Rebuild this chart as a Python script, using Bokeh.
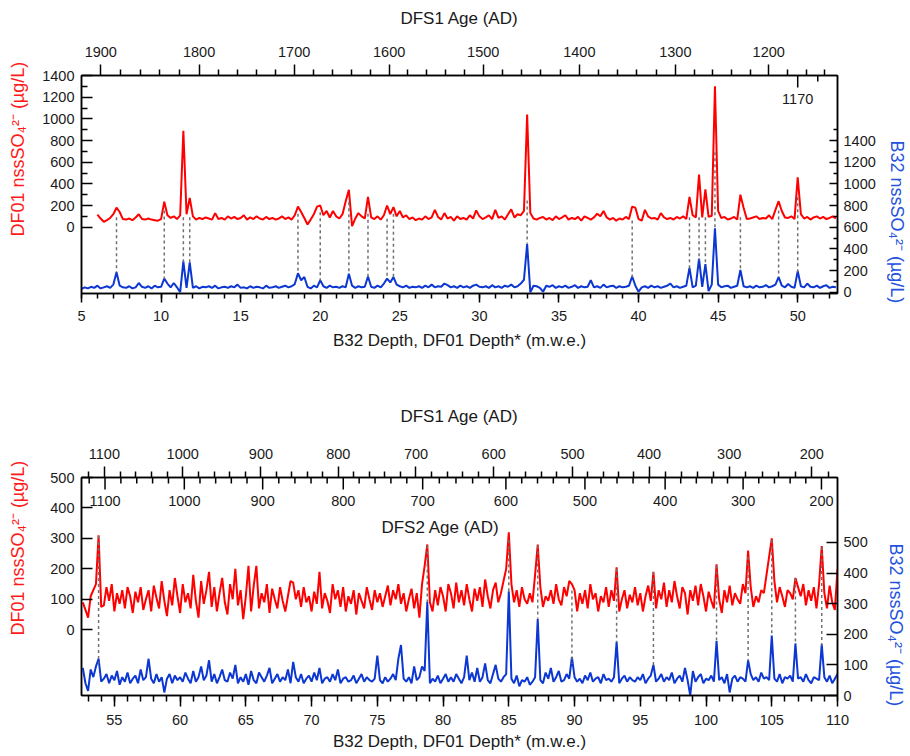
import numpy as np
from bokeh.plotting import figure
from bokeh.models import Range1d, LinearAxis, FixedTicker, SingleIntervalTicker, Title
from bokeh.layouts import column
from bokeh.embed import file_html
from bokeh.resources import INLINE
from bokeh.core.properties import value

# ------------------------------------------------------------------ data
STEP = 0.2

# upper panel: DF01 (red) and B32 (blue), sampled every 0.2 m
top_red_start = 6.0
top_red = [
    115, 80, 50, 65, 85, 120, 180, 140, 75, 70,
    80, 65, 90, 120, 75, 70, 80, 70, 65, 60,
    75, 235, 110, 85, 100, 75, 110, 890, 120, 270,
    100, 70, 85, 75, 90, 80, 70, 130, 75, 85,
    70, 100, 80, 95, 75, 85, 110, 70, 90, 75,
    100, 80, 70, 95, 75, 85, 70, 80, 100, 75,
    90, 70, 110, 190, 140, 85, 25, 70, 120, 190,
    200, 110, 150, 90, 150, 100, 80, 120, 240, 345,
    10, 80, 130, 100, 80, 280, 90, 75, 100, 70,
    110, 200, 120, 185, 100, 150, 90, 110, 75, 90,
    65, 80, 70, 100, 75, 90, 160, 95, 70, 130,
    80, 95, 60, 100, 75, 85, 70, 110, 80, 155,
    100, 75, 90, 110, 75, 160, 85, 100, 70, 120,
    165, 90, 120, 110, 150, 1040, 130, 80, 70, 85,
    95, 70, 85, 65, 100, 75, 90, 110, 70, 85,
    75, 95, 60, 100, 85, 70, 90, 125, 100, 150,
    90, 70, 85, 60, 80, 70, 95, 75, 190, 180,
    75, 60, 160, 100, 80, 85, 70, 130, 90, 75,
    85, 70, 95, 80, 100, 75, 280, 110, 90, 485,
    90, 350, 95, 105, 1300, 150, 85, 95, 70, 80,
    95, 70, 300, 180, 75, 80, 90, 100, 75, 85,
    80, 110, 75, 160, 240, 150, 90, 85, 100, 75,
    460, 120, 80, 95, 70, 90, 100, 80, 95, 75,
    85, 100, 80,
]
top_blue_start = 5.0
top_blue = [
    30, 45, 35, 50, 40, 60, 35, 45, 55, 40,
    70, 185, 60, 45, 40, 55, 35, 45, 85, 50,
    40, 55, 35, 60, 45, 50, 125, 80, 45, 85,
    45, 0, 285, 40, 275, 40, 55, 35, 50, 45,
    55, 40, 60, 35, 45, 50, 40, 55, 45, 70,
    40, 45, 35, 55, 40, 50, 45, 35, 60, 40,
    45, 55, 40, 50, 60, 45, 55, 75, 175, 110,
    140, 50, 35, 60, 45, 110, 55, 40, 60, 45,
    50, 40, 55, 45, 170, 60, 40, 55, 45, 50,
    145, 50, 40, 60, 45, 80, 125, 90, 140, 70,
    55, 45, 60, 40, 50, 45, 55, 40, 60, 45,
    70, 45, 55, 50, 80, 65, 45, 55, 40, 60,
    45, 55, 40, 60, 70, 50, 45, 55, 40, 65,
    45, 55, 40, 60, 50, 70, 45, 55, 80, 115,
    445, 0, 60, 55, 40, 5, 60, 50, 65, 40,
    55, 45, 60, 40, 50, 65, 40, 55, 45, 50,
    110, 45, 55, 40, 70, 45, 55, 60, 40, 55,
    45, 50, 60, 145, 60, 5, 45, 55, 40, 60,
    45, 55, 40, 50, 60, 80, 45, 55, 40, 50,
    60, 225, 45, 60, 310, 50, 260, 10, 70, 590,
    70, 45, 55, 60, 40, 50, 60, 205, 55, 45,
    55, 40, 60, 45, 50, 65, 45, 55, 70, 140,
    60, 45, 75, 50, 40, 195, 55, 45, 80, 50,
    45, 60, 40, 55, 65, 40, 50, 45,
]

# lower panel, sampled every 0.2 m
bot_start = 52.6
bot_red = [
    90, 65, 40, 110, 130, 150, 310, 75, 80, 140,
    95, 150, 60, 120, 85, 130, 70, 140, 110, 55,
    125, 90, 140, 65, 100, 130, 60, 145, 105, 70,
    160, 95, 45, 130, 80, 170, 110, 55, 150, 90,
    120, 70, 180, 95, 40, 160, 85, 130, 190, 75,
    140, 60, 120, 170, 90, 50, 150, 100, 200, 80,
    130, 35, 110, 210, 60, 145, 210, 70, 120, 90,
    150, 55, 135, 100, 70, 140, 95, 60, 110, 160,
    155, 100, 130, 75, 140, 90, 110, 60, 125, 85,
    190, 70, 120, 95, 55, 150, 100, 130, 75, 140,
    60, 110, 85, 130, 50, 120, 95, 70, 140, 100,
    65, 130, 90, 120, 75, 110, 145, 80, 130, 100,
    150, 85, 120, 60, 100, 135, 70, 120, 40, 150,
    210, 280, 90, 60, 130, 80, 140, 110, 60, 150,
    120, 70, 155, 90, 130, 80, 150, 100, 60, 135,
    95, 140, 75, 165, 110, 70, 130, 155, 90, 120,
    160, 200, 320, 150, 90, 130, 75, 140, 100, 85,
    120, 90, 180, 280, 140, 75, 110, 95, 130, 85,
    150, 100, 80, 140, 110, 160, 150, 130, 60, 120,
    85, 130, 70, 150, 100, 120, 60, 110, 90, 140,
    75, 130, 95, 205, 60, 100, 130, 70, 115, 90,
    140, 80, 120, 60, 110, 145, 95, 190, 70, 130,
    100, 155, 75, 130, 90, 160, 110, 70, 140, 120,
    50, 130, 95, 145, 80, 150, 110, 60, 125, 95,
    70, 215, 100, 55, 130, 90, 145, 80, 120, 100,
    85, 150, 120, 260, 140, 75, 110, 90, 130, 120,
    180, 240, 300, 160, 90, 140, 110, 75, 130, 120,
    100, 170, 140, 110, 150, 80, 130, 95, 140, 70,
    150, 275, 120, 70, 145, 90, 65, 200,
]
bot_blue = [
    90, 40, 15, 85, 60, 95, 120, 45, 55, 70,
    40, 65, 50, 80, 35, 60, 45, 75, 40, 55,
    65, 40, 85, 50, 60, 120, 55, 40, 70, 45,
    60, 10, 55, 70, 40, 65, 50, 60, 45, 75,
    55, 40, 80, 45, 60, 95, 50, 65, 115, 45,
    70, 40, 60, 85, 50, 45, 75, 55, 100, 40,
    60, 45, 70, 35, 80, 50, 40, 75, 60, 45,
    65, 90, 40, 55, 70, 45, 60, 50, 85, 40,
    110, 60, 45, 70, 40, 55, 65, 45, 75, 50,
    90, 40, 55, 60, 45, 70, 50, 85, 40, 55,
    60, 45, 50, 65, 40, 55, 70, 45, 60, 50,
    45, 55, 130, 50, 40, 60, 45, 55, 70, 50,
    120, 165, 55, 45, 60, 40, 95, 50, 60, 95,
    80, 305, 40, 55, 45, 65, 40, 55, 70, 45,
    60, 45, 70, 55, 40, 60, 130, 50, 75, 45,
    90, 45, 60, 105, 50, 40, 70, 100, 55, 45,
    60, 70, 340, 55, 40, 65, 30, 50, 45, 60,
    35, 45, 60, 250, 50, 40, 75, 55, 90, 45,
    60, 80, 45, 50, 70, 55, 125, 60, 45, 55,
    40, 65, 50, 75, 45, 55, 60, 40, 70, 50,
    55, 45, 60, 175, 40, 55, 65, 45, 60, 50,
    45, 60, 50, 70, 40, 55, 65, 100, 45, 55,
    70, 45, 60, 50, 75, 40, 55, 65, 45, 90,
    50, 0, 80, 45, 60, 70, 40, 55, 50, 65,
    45, 178, 50, 60, 40, 70, 10, 55, 65, 45,
    60, 55, 45, 115, 70, 50, 60, 45, 75, 55,
    60, 50, 196, 55, 45, 70, 40, 60, 55, 65,
    45, 170, 55, 60, 45, 70, 50, 40, 60, 55,
    50, 167, 60, 45, 65, 40, 55, 70,
]

# tie lines between matched peaks (depth, DF01 top value, B32 bottom value)
top_link_depth = [7.2, 10.2, 11.4, 11.8, 18.6, 20.0, 21.8, 23.0, 24.2, 24.6,
                  33.0, 39.6, 43.2, 43.8, 44.2, 44.8, 46.4, 48.8, 50.0]
top_link_red = [92, 154, 92, 92, 123, 138, 231, 123, 77, 123,
                246, 62, 92, 92, 92, 692, 92, 154, 277]
top_link_blue = [185, 124, 277, 277, 170, 108, 170, 139, 124, 139,
                 447, 139, 216, 293, 246, 570, 200, 139, 185]
bot_link_depth = [53.8, 78.8, 85.0, 87.2, 89.8, 93.2, 96.0, 100.8, 103.2, 105.0, 106.8, 108.8]
bot_link_red = [308, 277, 294, 277, 129, 200, 190, 211, 239, 294, 168, 272]
bot_link_blue = [104, 305, 338, 251, 104, 174, 98, 174, 114, 196, 169, 163]

# age scales (age -> depth tie points)
top_age = [1900, 1800, 1700, 1600, 1500, 1400, 1300, 1200]
top_age_depth = [6.21, 12.39, 18.36, 24.33, 30.24, 36.28, 42.31, 48.18]
top_inner_age = [1170]
top_inner_depth = [50.0]
top_inner_minor_depth = [51.26]
bot_age = [1100, 1000, 900, 800, 700, 600, 500, 400, 300, 200]
bot_dfs1_depth = [54.24, 60.20, 66.15, 72.03, 77.94, 83.85, 89.85, 95.67, 101.76, 108.04]
bot_dfs2_depth = [54.29, 60.32, 66.28, 72.41, 78.45, 84.78, 90.79, 96.89, 102.82, 108.78]

RED_TITLE = "DF01 nssSO\u2084\u00b2\u207b (\u00b5g/L)"
BLUE_TITLE = "B32 nssSO\u2084\u00b2\u207b (\u00b5g/L)"
X_TITLE = "B32 Depth, DF01 Depth* (m.w.e.)"

# ------------------------------------------------------------------ style
FONT = "Liberation Sans"
RED = "#ff0000"
BLUE = "#0c37d2"
RED_T = "#ff1a1a"
BLUE_T = "#2352de"
INK = "#1a1a1a"
LINK = "#707070"
W = 910
FL, FW, FRAME_H = 81, 756, 218
TICK_FS = "14.5px"
TITLE_FS = "17px"
SIDE_FS = "18px"


def grid(start, n):
    return np.round(start + STEP * np.arange(n), 2)


def age_to_depth(ages, tie_ages, tie_depths):
    a = np.asarray(tie_ages, float)[::-1]
    d = np.asarray(tie_depths, float)[::-1]
    ages = np.asarray(ages, float)
    out = np.interp(ages, a, d)
    lo = ages < a[0]
    hi = ages > a[-1]
    out[lo] = d[0] + (ages[lo] - a[0]) * (d[1] - d[0]) / (a[1] - a[0])
    out[hi] = d[-1] + (ages[hi] - a[-1]) * (d[-1] - d[-2]) / (a[-1] - a[-2])
    return out


def minors(a_from, a_to):
    return [a for a in range(a_from, a_to - 1, -20) if a % 100 != 0]


def to_primary(vals, pr, sr):
    v = np.asarray(vals, float)
    return pr.start + (v - sr.start) * (pr.end - pr.start) / (sr.end - sr.start)


def x_at(px, xr):
    return xr.start + (px - FL) * (xr.end - xr.start) / FW


def y_at(dy, yr):
    # dy: pixels below the top of the frame
    return yr.end - dy * (yr.end - yr.start) / FRAME_H


def style(ax, tick_in=0, tick_out=0, minor_in=0, minor_out=0, standoff=6):
    ax.major_label_text_font = FONT
    ax.major_label_text_font_size = TICK_FS
    ax.major_label_text_color = INK
    ax.axis_label_text_font = FONT
    ax.axis_label_text_font_size = TITLE_FS
    ax.axis_label_text_font_style = "normal"
    ax.axis_label_text_color = INK
    ax.axis_line_width = 1.5
    ax.axis_line_color = "black"
    ax.major_tick_line_width = 1.5
    ax.minor_tick_line_width = 1.5
    ax.major_tick_line_color = "black"
    ax.minor_tick_line_color = "black"
    ax.major_tick_in = tick_in
    ax.major_tick_out = tick_out
    ax.minor_tick_in = minor_in
    ax.minor_tick_out = minor_out
    ax.major_label_standoff = standoff


def spacer(ax, gap):
    # widen an axis panel by "gap" px so that the next panel sits further out
    ax.axis_label = " "
    ax.axis_label_text_font_size = "1px"
    ax.axis_label_standoff = gap


def make_fig(height, xr, yr, btop, bbot):
    p = figure(width=W, height=height, x_range=xr, y_range=yr, title=None,
               output_backend="svg", toolbar_location=None,
               min_border_left=FL, min_border_right=W - FL - FW,
               min_border_top=btop, min_border_bottom=bbot)
    p.grid.visible = False
    p.outline_line_color = "black"
    p.outline_line_width = 1.5
    p.outline_line_alpha = 1.0
    p.background_fill_color = "white"
    p.border_fill_color = "white"
    return p


def age_axis(tie_age, tie_depth, minor_ages, label):
    d_major = [float(d) for d in tie_depth]
    d_minor = [float(d) for d in age_to_depth(minor_ages, tie_age, tie_depth)]
    ax = LinearAxis(ticker=FixedTicker(ticks=d_major, minor_ticks=d_minor),
                    major_label_overrides={d: str(a) for d, a in zip(d_major, tie_age)})
    style(ax, tick_out=11, minor_out=6, standoff=8)
    ax.axis_label = label
    return ax


def inner_scale(p, depths, minor_depths, labels, tick_len, minor_len, label_off):
    yr = p.y_range
    n = len(depths)
    m = len(minor_depths)
    p.segment(x0=depths, y0=[yr.end] * n, x1=depths, y1=[y_at(tick_len, yr)] * n,
              line_color="black", line_width=1.5)
    if m:
        p.segment(x0=minor_depths, y0=[yr.end] * m, x1=minor_depths,
                  y1=[y_at(minor_len, yr)] * m, line_color="black", line_width=1.5)
    p.text(x=depths, y=[y_at(label_off, yr)] * n, text=labels,
           text_font=value(FONT), text_font_size=value(TICK_FS), text_color=INK,
           text_align="center", text_baseline="middle")


def side_title(p, text, side, offset, color):
    p.add_layout(Title(text=text, align="left", offset=offset, standoff=2,
                       text_font=FONT, text_font_size=SIDE_FS, text_font_style="normal",
                       text_color=color), side)


# ------------------------------------------------------------------ upper panel
p1 = make_fig(368, Range1d(5, 52.5), Range1d(-612, 1400), 75, 75)
p1.extra_y_ranges = {"b32": Range1d(-12, 2000)}

p1.line(grid(top_red_start, len(top_red)), top_red, line_color=RED, line_width=2)
p1.line(grid(top_blue_start, len(top_blue)), top_blue, line_color=BLUE, line_width=2,
        y_range_name="b32")
p1.segment(x0=top_link_depth, y0=top_link_red, x1=top_link_depth,
           y1=to_primary(top_link_blue, p1.y_range, p1.extra_y_ranges["b32"]),
           line_color=LINK, line_width=1.5, line_dash="3 3")

ya = p1.yaxis[0]
style(ya, tick_in=11, minor_in=6, standoff=7)
ya.ticker = FixedTicker(ticks=list(range(0, 1401, 200)), minor_ticks=list(range(100, 1400, 200)))
spacer(ya, 7)

ra = LinearAxis(y_range_name="b32")
style(ra, tick_in=8, minor_in=4, standoff=6)
ra.ticker = FixedTicker(ticks=list(range(0, 1401, 200)), minor_ticks=list(range(100, 1600, 200)))
spacer(ra, 3)
p1.add_layout(ra, "right")

xa = p1.xaxis[0]
style(xa, tick_out=9, minor_out=5, standoff=8)
xa.ticker = SingleIntervalTicker(interval=5, num_minor_ticks=5)
xa.axis_label = X_TITLE
xa.axis_label_standoff = 7

ta = age_axis(top_age, top_age_depth, minors(1880, 1140), "DFS1 Age (AD)")
ta.axis_label_standoff = 16
p1.add_layout(ta, "above")
inner_scale(p1, top_inner_depth, top_inner_minor_depth, [str(a) for a in top_inner_age], 12, 6, 23)

side_title(p1, RED_TITLE, "left", 57, RED_T)
side_title(p1, BLUE_TITLE, "right", 65, BLUE_T)

# ------------------------------------------------------------------ lower panel
p2 = make_fig(388, Range1d(52.5, 110), Range1d(-216, 500), 109, 61)
p2.extra_y_ranges = {"b32": Range1d(0, 712)}

p2.line(grid(bot_start, len(bot_red)), bot_red, line_color=RED, line_width=2)
p2.line(grid(bot_start, len(bot_blue)), bot_blue, line_color=BLUE, line_width=2,
        y_range_name="b32")
p2.segment(x0=bot_link_depth, y0=bot_link_red, x1=bot_link_depth,
           y1=to_primary(bot_link_blue, p2.y_range, p2.extra_y_ranges["b32"]),
           line_color=LINK, line_width=1.5, line_dash="3 3")

ya2 = p2.yaxis[0]
style(ya2, tick_in=11, standoff=7)
ya2.ticker = FixedTicker(ticks=list(range(0, 501, 100)), minor_ticks=[])
spacer(ya2, 15)

ra2 = LinearAxis(y_range_name="b32")
style(ra2, tick_in=11, standoff=6)
ra2.ticker = FixedTicker(ticks=list(range(0, 501, 100)), minor_ticks=[])
spacer(ra2, 10)
p2.add_layout(ra2, "right")

xa2 = p2.xaxis[0]
style(xa2, tick_out=11, minor_out=6, standoff=8)
xa2.ticker = SingleIntervalTicker(interval=5, num_minor_ticks=5)
xa2.axis_label = X_TITLE
xa2.axis_label_standoff = 4

ta2 = age_axis(bot_age, bot_dfs1_depth, minors(1120, 180), "DFS1 Age (AD)")
ta2.axis_label_standoff = 20
p2.add_layout(ta2, "above")

dfs2_minor = [float(d) for d in age_to_depth(minors(1120, 220), bot_age, bot_dfs2_depth)]
inner_scale(p2, bot_dfs2_depth, dfs2_minor, [str(a) for a in bot_age], 12, 6, 23)
p2.text(x=[x_at(440, p2.x_range)], y=[y_at(50, p2.y_range)], text=["DFS2 Age (AD)"],
        text_font=value(FONT), text_font_size=value(TITLE_FS), text_color=INK,
        text_align="center", text_baseline="middle")

side_title(p2, RED_TITLE, "left", 60, RED_T)
side_title(p2, BLUE_TITLE, "right", 66, BLUE_T)

layout = column(p1, p2, spacing=0)
open("out.html", "w").write(file_html(layout, INLINE))
